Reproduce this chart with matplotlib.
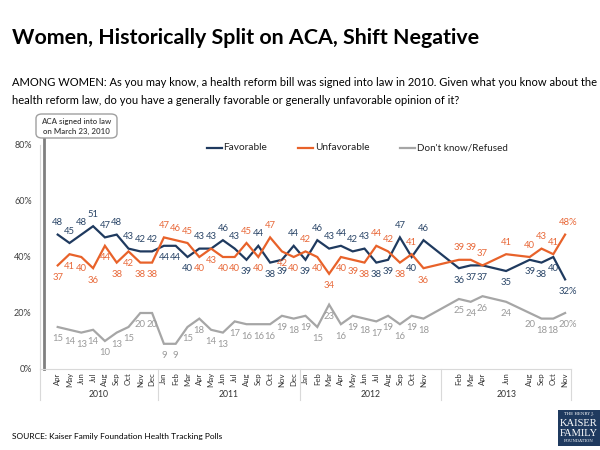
import matplotlib
matplotlib.use('Agg')
import matplotlib.pyplot as plt
from matplotlib.lines import Line2D
from matplotlib.patches import FancyBboxPatch, Rectangle

plt.rcParams['font.family'] = ['Lato', 'DejaVu Sans']

# ---------------- data ----------------
months = ['', 'Apr', 'May', 'Jun', 'Jul', 'Aug', 'Sep', 'Oct', 'Nov', 'Dec',
          'Jan', 'Feb', 'Mar', 'Apr', 'May', 'Jun', 'Jul', 'Aug', 'Sep', 'Oct', 'Nov', 'Dec',
          'Jan', 'Feb', 'Mar', 'Apr', 'May', 'Jun', 'Jul', 'Aug', 'Sep', 'Oct', 'Nov', '',
          '', 'Feb', 'Mar', 'Apr', '', 'Jun', '', 'Aug', 'Sep', 'Oct', 'Nov']
years = ['2010', '2011', '2012', '2013']
year_sizes = [10, 12, 12, 11]

favorable = [None, 48, 45, 48, 51, 47, 48, 43, 42, 42,
             44, 44, 40, 43, 43, 46, 43, 39, 44, 38, 39, 44,
             39, 46, 43, 44, 42, 43, 38, 39, 47, 40, 46, None,
             None, 36, 37, 37, None, 35, None, 39, 38, 40, 32]
unfavorable = [None, 37, 41, 40, 36, 44, 38, 42, 38, 38,
               47, 46, 45, 40, 43, 40, 40, 45, 40, 47, 42, 40,
               42, 40, 34, 40, 39, 38, 44, 42, 38, 41, 36, None,
               None, 39, 39, 37, None, 41, None, 40, 43, 41, 48]
dontknow = [None, 15, 14, 13, 14, 10, 13, 15, 20, 20,
            9, 9, 15, 18, 14, 13, 17, 16, 16, 16, 19, 18,
            19, 15, 23, 16, 19, 18, 17, 19, 16, 19, 18, None,
            None, 25, 24, 26, None, 24, None, 20, 18, 18, 20]

# label placement (a = above, b = below)
fav_pos = list('-aaaaaaaaa' + 'bbbaaaababba' + 'baaaaabbaba-' + '-bbb-b-bbbb')
unf_pos = list('-bbbbbbbbb' + 'aaabbbbababb' + 'abbbbbaabab-' + '-aaa-a-aaaa')
dk_pos = ['b'] * len(dontknow)

series_names = ['Favorable', 'Unfavorable', "Don't know/Refused"]
line_colors = ['#1F3A5F', '#E8622A', '#A6A6A6']
label_colors = ['#2B4668', '#E8693A', '#9A9A9A']

# ---------------- figure ----------------
W, H = 600, 450
fig = plt.figure(figsize=(6, 4.5), dpi=100)
fig.patch.set_facecolor('white')

def fx(x):
    return x / W

def fy(y):
    return 1 - y / H

ax_l, ax_r, ax_t, ax_b = 40, 571, 145, 369
ax = fig.add_axes([fx(ax_l), fy(ax_b), (ax_r - ax_l) / W, (ax_b - ax_t) / H])
n = len(months)
ax.set_xlim(-0.5, n - 0.5)
ax.set_ylim(0, 80)
ax.set_yticks([0, 20, 40, 60, 80])
ax.set_yticklabels(['0%', '20%', '40%', '60%', '80%'], fontsize=6.5, color='#404040')
ax.tick_params(axis='y', length=0, pad=6)
ax.set_xticks([])
for s in ['top', 'right']:
    ax.spines[s].set_visible(False)
ax.spines['left'].set_color('#D9D9D9')
ax.spines['bottom'].set_color('#D9D9D9')
ax.spines['left'].set_linewidth(0.8)
ax.spines['bottom'].set_linewidth(0.8)

# ACA signing marker
ax.plot([-0.2, -0.2], [0, 83], color='#808080', lw=2.0, clip_on=False, zorder=2)

all_series = [favorable, unfavorable, dontknow]
all_pos = [fav_pos, unf_pos, dk_pos]
for vals, pos, lc, tc in zip(all_series, all_pos, line_colors, label_colors):
    xs = [i for i, v in enumerate(vals) if v is not None]
    ys = [vals[i] for i in xs]
    ax.plot(xs, ys, color=lc, lw=1.6, zorder=3, solid_joinstyle='miter')
    last = xs[-1]
    for i in xs:
        v = vals[i]
        txt = f'{v}%' if i == last else f'{v}'
        off = 8.6 if pos[i] == 'a' else -8.6
        dx = 2 if i == last else 0
        ax.annotate(txt, (i, v), xytext=(dx, off), textcoords='offset points',
                    ha='center', va='center', fontsize=6.8, color=tc, zorder=4)

# month labels
for i, m in enumerate(months):
    if m:
        ax.text(i, -1.2, m, rotation=90, ha='center', va='top', fontsize=5.6,
                color='#333333', transform=ax.transData)

# year groups
start = -0.5
trans = ax.get_xaxis_transform()
for yname, size in zip(years, year_sizes):
    end = start + size
    ax.plot([start, start], [0, -0.14], color='#D9D9D9', lw=0.8, transform=trans, clip_on=False)
    ax.text((start + end) / 2, -0.115, yname, ha='center', va='center', fontsize=6.2,
            color='#333333', transform=trans)
    start = end
ax.plot([start, start], [0, -0.14], color='#D9D9D9', lw=0.8, transform=trans, clip_on=False)

# ---------------- texts ----------------
renderer = fig.canvas.get_renderer()

def fit(t, width_px):
    bb = t.get_window_extent(renderer)
    t.set_fontsize(t.get_fontsize() * width_px / bb.width)

title = fig.text(fx(12), fy(38), 'Women, Historically Split on ACA, Shift Negative',
                 fontsize=15, fontweight='bold', color='black', ha='left', va='center')
fit(title, 469)

sub1 = fig.text(fx(12), fy(83), 'AMONG WOMEN: As you may know, a health reform bill was signed into law in 2010. Given what you know about the',
                fontsize=8, color='black', ha='left', va='center')
fit(sub1, 584)
sub2 = fig.text(fx(12), fy(101), 'health reform law, do you have a generally favorable or generally unfavorable opinion of it?',
                fontsize=sub1.get_fontsize(), color='black', ha='left', va='center')

src = fig.text(fx(12), fy(436), 'SOURCE: Kaiser Family Foundation Health Tracking Polls',
               fontsize=6, color='black', ha='left', va='center')
fit(src, 210)

# callout box
box = FancyBboxPatch((fx(36), fy(138)), (117 - 36) / W, (138 - 114) / H,
                     boxstyle='round,pad=0,rounding_size=0.01',
                     transform=fig.transFigure, facecolor='white', edgecolor='#A0A0A0', lw=1.0)
fig.add_artist(box)
b1 = fig.text(fx(76.5), fy(121), 'ACA signed into law', ha='center', va='center',
              fontsize=6, color='#404040', fontweight='semibold')
fit(b1, 71)
fig.text(fx(76.5), fy(131), 'on March 23, 2010', ha='center', va='center',
         fontsize=b1.get_fontsize(), color='#404040', fontweight='semibold')

# legend
leg_items = [(207, 224, 268), (298, 316, 370), (400, 418, 509)]
for (lx, tx, tend), name, lc in zip(leg_items, series_names, line_colors):
    fig.add_artist(Line2D([fx(lx), fx(lx + 15)], [fy(148), fy(148)], color=lc, lw=1.6,
                          transform=fig.transFigure))
    t = fig.text(fx(tx - 1), fy(148), name, ha='left', va='center', fontsize=7, color='#222222')
    fit(t, tend - tx)

# logo
fig.add_artist(Rectangle((fx(558), fy(446)), 42 / W, 36 / H, transform=fig.transFigure,
                         facecolor='#1F3A5F', edgecolor='none'))
fig.text(fx(579), fy(414.5), 'THE HENRY J.', ha='center', va='center', fontsize=2.9,
         color='white', family='DejaVu Serif')
k = fig.text(fx(579), fy(424), 'KAISER', ha='center', va='center', fontsize=8,
             color='white', family='Liberation Serif')
fit(k, 38)
fig.text(fx(579), fy(433), 'FAMILY', ha='center', va='center', fontsize=k.get_fontsize(),
         color='white', family='Liberation Serif')
fig.text(fx(579), fy(441.5), 'FOUNDATION', ha='center', va='center', fontsize=2.9,
         color='white', family='DejaVu Serif')

fig.savefig('out.png', dpi=100, facecolor='white')
